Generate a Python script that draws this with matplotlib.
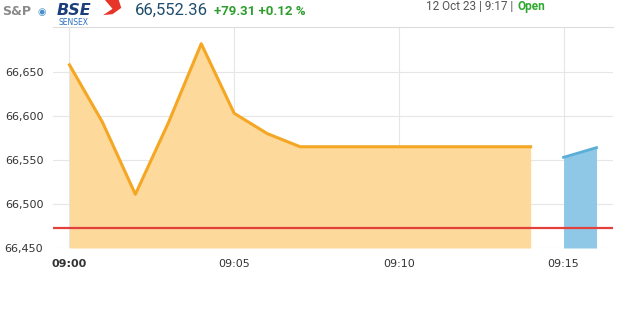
import matplotlib
matplotlib.use('Agg')
import matplotlib.pyplot as plt
from matplotlib.patches import Polygon

# intraday Sensex, minutes after 09:00
minutes = [0, 1, 2, 3, 4, 5, 6, 7, 8, 9, 10, 11, 12, 13, 14]
values = [66658, 66593, 66511, 66592, 66682, 66603, 66580, 66565,
          66565, 66565, 66565, 66565, 66565, 66565, 66565]
live_minutes = [15, 16]
live_values = [66553, 66564]
prev_close = 66473.05

yticks = [66450, 66500, 66550, 66600, 66650]
xtick_pos = [0, 5, 10, 15]
xtick_labels = ["09:00", "09:05", "09:10", "09:15"]

fig = plt.figure(figsize=(6.25, 3.15), dpi=100)
ax = fig.add_axes([53 / 625, 67 / 315, 560 / 625, 221 / 315])

orange = '#f5a623'
ax.fill_between(minutes, values, 66450, color='#fdd99b', lw=0, zorder=2)
ax.plot(minutes, values, color=orange, lw=2.2, zorder=3)
ax.fill_between(live_minutes, live_values, 66450, color='#8ec8e6', lw=0, zorder=2)
ax.plot(live_minutes, live_values, color='#5aaed8', lw=2, zorder=3)
ax.axhline(prev_close, color='#e2403a', lw=1.6, zorder=4)

ax.set_xlim(-0.5, 16.5)
ax.set_ylim(66450, 66701)
ax.set_yticks(yticks)
ax.set_yticklabels([f"{v:,}" for v in yticks])
ax.set_xticks(xtick_pos)
ax.set_xticklabels(xtick_labels)
ax.get_xticklabels()[0].set_fontweight('bold')
ax.tick_params(axis='both', length=0, labelsize=8, colors='#333333')
ax.tick_params(axis='y', pad=7)
ax.tick_params(axis='x', pad=8)
ax.grid(True, color='#e6e6e6', lw=0.8, zorder=0)
for s in ['left', 'right', 'bottom']:
    ax.spines[s].set_visible(False)
ax.spines['top'].set_color('#dddddd')

# header: logo
fig.text(0.003, 0.962, "S&P", fontsize=9, fontweight='bold', color='#8a8a8a', va='center')
fig.text(0.06, 0.962, "◉", fontsize=7, color='#4a90c8', va='center')
fig.text(0.09, 0.967, "BSE", fontsize=11.5, fontweight='bold', style='italic',
         color='#1c3f7a', va='center')
fig.text(0.094, 0.928, "SENSEX", fontsize=5.5, color='#2a6fc0', va='center')
swoosh = Polygon([(0.168, 1.0), (0.190, 1.0), (0.194, 0.975), (0.180, 0.955),
                  (0.165, 0.952), (0.180, 0.972)],
                 closed=True, transform=fig.transFigure, color='#e8352a', lw=0)
fig.patches.append(swoosh)

# header: quote
fig.text(0.216, 0.966, "66,552.36", fontsize=12, family='Roboto', color='#1f4d6e', va='center')
fig.text(0.342, 0.963, "+79.31 +0.12 %", fontsize=9.5, family='Roboto', fontweight='bold',
         color='#2f9e2f', va='center')
fig.text(0.822, 0.978, "12 Oct 23 | 9:17 |", fontsize=8.5, family='Roboto',
         color='#555555', va='center', ha='right')
fig.text(0.828, 0.978, "Open", fontsize=8.5, family='Roboto', fontweight='bold',
         color='#2fa82f', va='center')

fig.savefig('out.png', dpi=100)
